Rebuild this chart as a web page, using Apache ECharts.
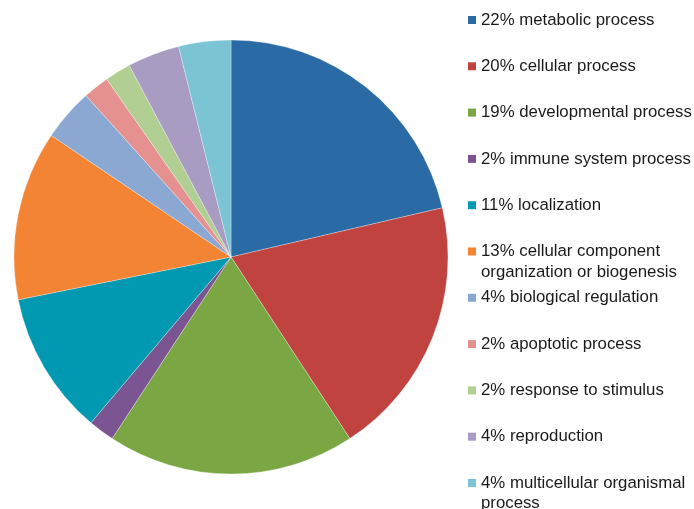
<!DOCTYPE html>
<html>
<head>
<meta charset="utf-8">
<script src="https://cdn.jsdelivr.net/npm/echarts@6/dist/echarts.min.js"></script>
<style>
html,body{margin:0;padding:0;background:#fff;}
#chart{width:694px;height:509px;}
</style>
</head>
<body>
<div id="chart"></div>
<script>
var categories = [
  'metabolic process',
  'cellular process',
  'developmental process',
  'immune system process',
  'localization',
  'cellular component\norganization or biogenesis',
  'biological regulation',
  'apoptotic process',
  'response to stimulus',
  'reproduction',
  'multicellular organismal\nprocess'
];
var percents = [22, 20, 19, 2, 11, 13, 4, 2, 2, 4, 4];
var colors = ['#2a6aa5', '#c0433f', '#7aa743', '#7b5592', '#0099b1', '#f38433',
              '#8aa8d1', '#e49190', '#b1cf93', '#a99cc3', '#7bc4d4'];

var L = 20.5;          // text line height
var firstCenter = 20;  // y of first legend marker centre
var step = 46.3;       // spacing between legend markers
var mk = 8;

var legends = categories.map(function (name, i) {
  var twoLine = name.indexOf('\n') >= 0;
  var center = firstCenter + i * step;
  return {
    data: [name],
    orient: 'vertical',
    left: 468,
    top: twoLine ? center - 1.5 * L : center - 0.5 * L,
    padding: 0,
    itemWidth: mk,
    itemHeight: mk,
    icon: 'rect',
    selectedMode: false,
    itemStyle: { borderWidth: 0 },
    formatter: function (n) {
      return (twoLine ? ' \n' : '') + percents[i] + '% ' + n;
    },
    textStyle: {
      fontFamily: 'Liberation Sans, Arial, sans-serif',
      fontSize: 16.8,
      color: '#1a1a1a',
      lineHeight: L
    }
  };
});

var chart = echarts.init(document.getElementById('chart'));
chart.setOption({
  animation: false,
  color: colors,
  legend: legends,
  series: [{
    type: 'pie',
    center: [231, 257],
    radius: 217,
    startAngle: 90,
    clockwise: true,
    label: { show: false },
    labelLine: { show: false },
    itemStyle: { borderColor: 'rgba(255,255,255,0.6)', borderWidth: 0.5 },
    emphasis: { disabled: true },
    data: categories.map(function (c, i) { return { name: c, value: percents[i] }; })
  }]
});
</script>
</body>
</html>
